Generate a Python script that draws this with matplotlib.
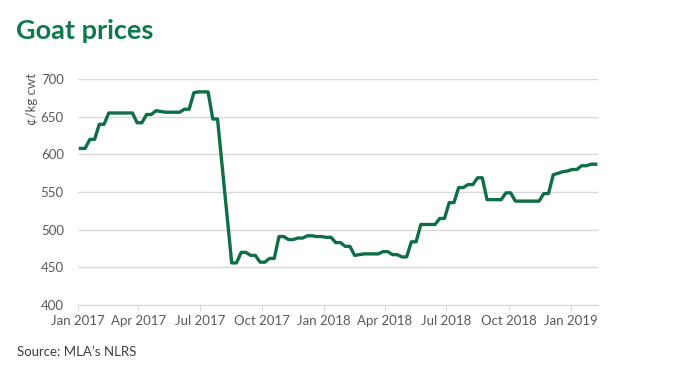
import matplotlib
matplotlib.use("Agg")
import matplotlib.pyplot as plt
import pandas as pd

# Weekly goat prices (c/kg cwt), starting first week of Jan 2017; None = no sale reported
start_date = "2017-01-05"
prices = [
    608, 608, 620, 620, 640, 640, 655, 655, 655, 655,
    655, 655, 642, 642, 653, 653, 658, 657, 656, 656,
    656, 656, 660, 660, 682, 683, 683, 683, 647, 647,
    None, None, 456, 456, 470, 470, 466, 466, 457, 457,
    462, 462, 491, 491, 487, 487, 489, 489, 492, 492,
    491, 491, 490, 490, 483, 483, 478, 478, 466, 467,
    468, 468, 468, 468, 471, 471, 467, 467, 464, 464,
    484, 484, 507, 507, 507, 507, 515, 515, 536, 536,
    556, 556, 560, 560, 569, 569, 540, 540, 540, 540,
    549, 549, 538, 538, 538, 538, 538, 538, 548, 548,
    573, 575, 577, 578, 580, 580, 585, 585, 587, 587,
]
tick_dates = ["2017-01-01", "2017-04-01", "2017-07-01", "2017-10-01", "2018-01-01",
              "2018-04-01", "2018-07-01", "2018-10-01", "2019-01-01"]
tick_labels = ["Jan 2017", "Apr 2017", "Jul 2017", "Oct 2017", "Jan 2018",
               "Apr 2018", "Jul 2018", "Oct 2018", "Jan 2019"]
y_ticks = [400, 450, 500, 550, 600, 650, 700]

plt.rcParams['font.family'] = ['Lato', 'DejaVu Sans']

dates = pd.date_range(start_date, periods=len(prices), freq="7D")
s = pd.Series(prices, index=dates, dtype=float).dropna()

fig = plt.figure(figsize=(7.0, 3.73), dpi=100)
ax = fig.add_axes([0.111, 0.182, 0.743, 0.606])

green = "#0f6e47"
ax.plot(s.index, s.values, color=green, lw=2.4, solid_joinstyle="round")

ax.set_ylim(400, 700)
ax.set_yticks(y_ticks)
ax.set_xlim(pd.Timestamp("2017-01-01"), s.index[-1] + pd.Timedelta(days=3))
ax.set_xticks(pd.to_datetime(tick_dates))
ax.set_xticklabels(tick_labels)

ax.grid(axis="y", color="#d9d9d9", lw=1)
ax.set_axisbelow(True)
for sp in ["top", "right", "left"]:
    ax.spines[sp].set_visible(False)
ax.spines["bottom"].set_color("#d9d9d9")
ax.tick_params(axis="y", length=0, labelsize=9.5, labelcolor="#595959", pad=10)
ax.tick_params(axis="x", length=4, color="#d9d9d9", labelsize=9.5, labelcolor="#595959", pad=3)

fig.text(0.046, 0.805, "¢/kg cwt", rotation=90, ha="center", va="top",
         fontsize=9.5, color="#595959")
fig.text(0.023, 0.918, "Goat prices", fontsize=19.5, fontweight="bold",
         color="#0e7a4c", ha="left", va="center")
fig.text(0.024, 0.055, "Source: MLA\u2019s NLRS", fontsize=9.5, color="#404040",
         ha="left", va="center")

fig.savefig("out.png", dpi=100)
